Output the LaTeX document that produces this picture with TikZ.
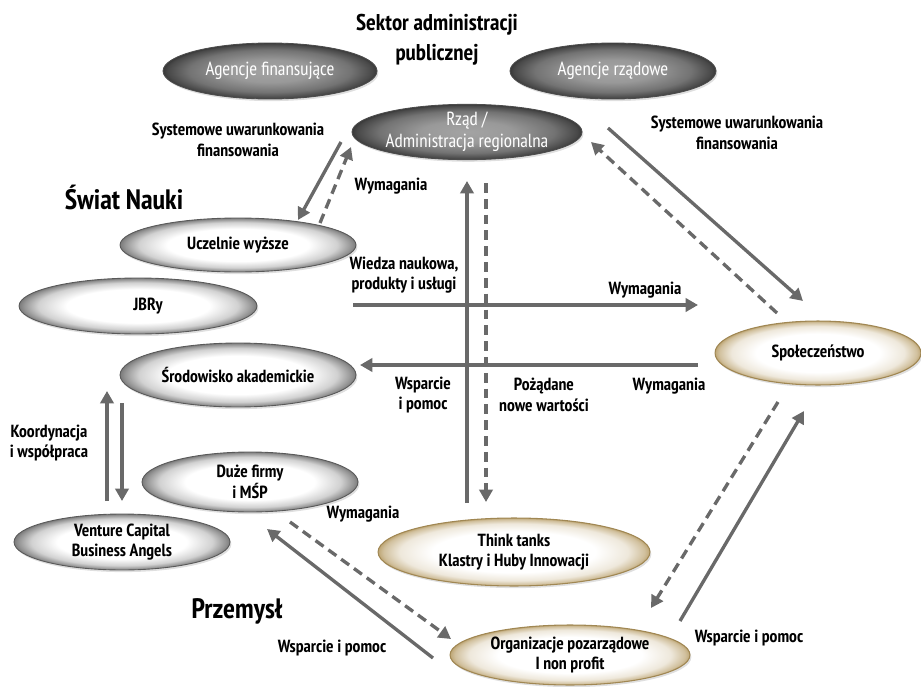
\documentclass[tikz,border=0pt]{standalone}
\usepackage{fontspec}
\setmainfont{PT Sans Narrow}
\usetikzlibrary{shapes.geometric,arrows.meta,shadows}

% radial fills for the three kinds of ovals
\pgfdeclareradialshading{ovallight}{\pgfpoint{0bp}{0bp}}{%
  color(0bp)=(white); color(15bp)=(white); color(21bp)=(black!18);
  color(24bp)=(black!42); color(25bp)=(black!52); color(50bp)=(black!52)}
\pgfdeclareradialshading{ovaldark}{\pgfpoint{0bp}{0bp}}{%
  color(0bp)=(black!36); color(10bp)=(black!40); color(19bp)=(black!55);
  color(24bp)=(black!72); color(25bp)=(black!78); color(50bp)=(black!78)}
\definecolor{tan}{RGB}{178,150,92}
\pgfdeclareradialshading{ovaltan}{\pgfpoint{0bp}{0bp}}{%
  color(0bp)=(white); color(15bp)=(white); color(21bp)=(tan!22);
  color(24bp)=(tan!60); color(25bp)=(tan!85); color(50bp)=(tan!85)}

\definecolor{arrowgray}{RGB}{105,105,105}

\tikzset{
  txt/.style={font=\fontsize{10}{11.6}\selectfont\bfseries, align=center, inner sep=0pt},
  heading/.style={font=\fontsize{13}{17}\selectfont\bfseries, align=center, inner sep=0pt},
  bigheading/.style={font=\fontsize{16}{19}\selectfont\bfseries, align=center, inner sep=0pt},
  oval/.style 2 args={ellipse, inner sep=0pt, minimum width=#1*0.04cm,
    minimum height=#2*0.04cm, txt,
    drop shadow={opacity=0.25, shadow xshift=0.8pt, shadow yshift=-1.2pt}},
  lightoval/.style={shading=ovallight, draw=black!65, line width=0.5pt},
  darkoval/.style={shading=ovaldark, draw=black!70, line width=0.5pt, text=white,
    font=\fontsize{10.8}{12.2}\selectfont},
  tanoval/.style={shading=ovaltan, draw=tan!90!black, line width=0.6pt},
  flow/.style={draw=arrowgray, line width=1.9pt,
    -{Triangle[length=7pt, width=7.5pt]}},
  backflow/.style={flow, dash pattern=on 5.6pt off 3.4pt},
}

\begin{document}
\begin{tikzpicture}[x=0.02cm, y=-0.02cm]
\useasboundingbox (0,0) rectangle (921,687);

% ---- ovals ----
\node[oval={107}{28}, darkoval] (afin) at (270,71) {Agencje finansujące};
\node[oval={103}{28}, darkoval] (arzad) at (613,71) {Agencje rządowe};
\node[oval={107}{26}, darkoval] (rzad) at (467,132) {Rząd /\\Administracja regionalna};

\node[oval={119}{28}, lightoval] (jbr) at (138,306) {\hspace*{0.4cm}JBRy};
\node[oval={118}{27}, lightoval] (ucz) at (238,245) {Uczelnie wyższe};
\node[oval={118}{32}, lightoval] (sro) at (238,375) {Środowisko akademickie};
\node[oval={108}{30}, lightoval] (duze) at (250,482) {Duże firmy\\i MŚP};
\node[oval={108}{28}, lightoval] (vc) at (122,542) {Venture Capital\\Business Angels};

\node[oval={136}{34}, tanoval] (think) at (514,552) {Think tanks\\Klastry i Huby Innowacji};
\node[oval={120}{30}, tanoval] (org) at (570,655) {Organizacje pozarządowe\\I non profit};
\node[oval={103}{32}, tanoval] (spol) at (818,353) {Społeczeństwo};

% ---- headings ----
\node[heading] (hsektor) at (437,40) {Sektor administracji\\publicznej};
\node[bigheading] (hnauka) at (124,197) {Świat Nauki};
\node[bigheading] (hprzem) at (237,611) {Przemysł};

% ---- labels ----
\node[txt] (l1) at (238,140) {Systemowe uwarunkowania\\finansowania};
\node[txt] (l2) at (737,133) {Systemowe uwarunkowania\\finansowania};
\node[txt] (l3) at (391,186) {Wymagania};
\node[txt] (l4) at (404,275) {Wiedza naukowa,\\produkty i usługi};
\node[txt] (l5) at (645,290) {Wymagania};
\node[txt] (l6) at (423,395) {Wsparcie\\i pomoc};
\node[txt] (l7) at (544,395) {Pożądane\\nowe wartości};
\node[txt] (l8) at (669,386) {Wymagania};
\node[txt] (l9) at (49,443) {Koordynacja\\i współpraca};
\node[txt] (l10) at (363,514) {Wymagania};
\node[txt] (l11) at (332,648) {Wsparcie i pomoc};
\node[txt] (l12) at (749,638) {Wsparcie i pomoc};

% ---- connector end points ----
\coordinate (a1s) at (341,142); \coordinate (a1e) at (298,220);
\coordinate (b1s) at (320,223); \coordinate (b1e) at (351,147);
\coordinate (a2s) at (467,503); \coordinate (a2e) at (467,181);
\coordinate (b2s) at (486,183); \coordinate (b2e) at (486,502);
\coordinate (a3s) at (353,305); \coordinate (a3e) at (698,305);
\coordinate (a4s) at (698,365); \coordinate (a4e) at (360,365);
\coordinate (a5s) at (608,128); \coordinate (a5e) at (803,301);
\coordinate (b5s) at (777,313); \coordinate (b5e) at (591,142);
\coordinate (b6s) at (778,402); \coordinate (b6e) at (651,608);
\coordinate (a6s) at (680,621); \coordinate (a6e) at (804,411);
\coordinate (a7s) at (433,658); \coordinate (a7e) at (267,529);
\coordinate (b7s) at (290,522); \coordinate (b7e) at (451,639);
\coordinate (a8s) at (107,501); \coordinate (a8e) at (107,391);
\coordinate (a9s) at (122,403); \coordinate (a9e) at (122,501);

% ---- connectors ----
\draw[flow] (a1s) -- (a1e);
\draw[backflow] (b1s) -- (b1e);
\draw[flow] (a2s) -- (a2e);
\draw[backflow] (b2s) -- (b2e);
\draw[flow] (a3s) -- (a3e);
\draw[flow] (a4s) -- (a4e);
\draw[flow] (a5s) -- (a5e);
\draw[backflow] (b5s) -- (b5e);
\draw[backflow] (b6s) -- (b6e);
\draw[flow] (a6s) -- (a6e);
\draw[flow] (a7s) -- (a7e);
\draw[backflow] (b7s) -- (b7e);
\draw[flow] (a8s) -- (a8e);
\draw[flow] (a9s) -- (a9e);
\end{tikzpicture}
\end{document}
